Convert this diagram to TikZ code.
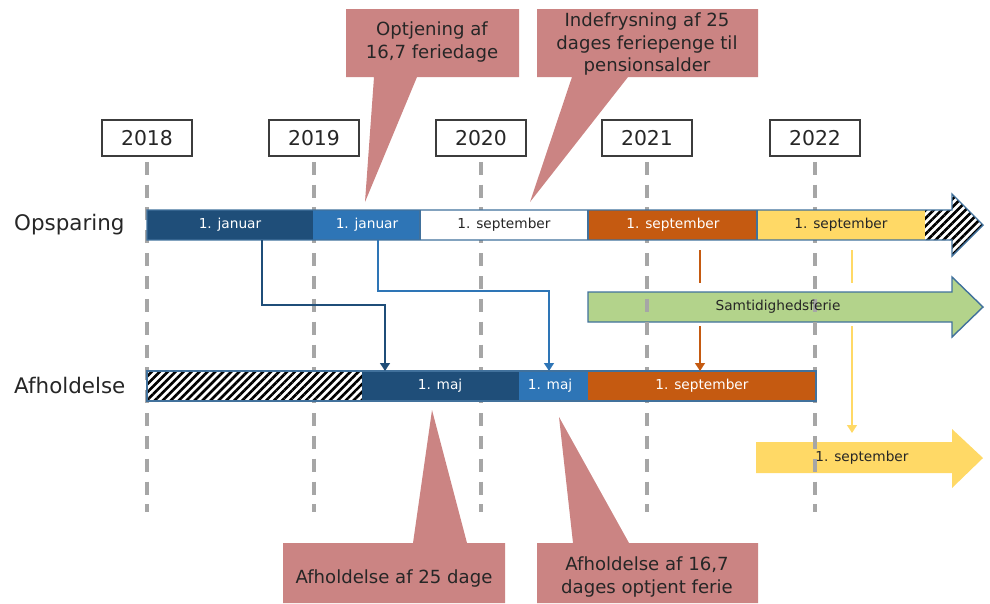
\documentclass[tikz,border=0pt]{standalone}
\usepackage{fontspec}
\setmainfont{DejaVu Sans}
\usepackage{tikz}
\usetikzlibrary{positioning, arrows.meta, patterns.meta, calc}
\definecolor{darkblue}{HTML}{1F4E79}
\definecolor{midblue}{HTML}{2E75B6}
\definecolor{rust}{HTML}{C55A11}
\definecolor{sun}{HTML}{FFD966}
\definecolor{leaf}{HTML}{B3D38B}
\definecolor{rose}{HTML}{CB8483}
\definecolor{rim}{HTML}{41719C}
\definecolor{gridgray}{HTML}{A6A6A6}
\definecolor{ink}{HTML}{262626}

\begin{document}
\begin{tikzpicture}[
        x=0.02cm, y=-0.02cm,
        yearbox/.style={rectangle, draw=ink!90, line width=0.6pt, minimum width=1.8cm, minimum height=0.72cm, inner sep=0pt, font=\fontsize{11.6}{13}\selectfont, text=ink},
        gridline/.style={gridgray, line width=2.1pt, dash pattern=on 7.4pt off 5.6pt},
        barlabel/.style={font=\fontsize{7.8}{9}\selectfont, inner sep=1pt},
        rowlabel/.style={anchor=west, font=\fontsize{12.2}{14}\selectfont, text=ink},
        calltext/.style={font=\fontsize{10.3}{12.8}\selectfont, align=center, text=ink},
        hatch/.style={pattern={Lines[angle=45, distance=3.2pt, line width=1.5pt]}},
        link/.style={line width=1.3pt, -{Triangle[width=5.5pt, length=4.5pt]}}
    ]
    \useasboundingbox (0,0) rectangle (990,603);

    % Green and yellow arrows (grid lines run over them)
    \fill[leaf] (588,292) -- (952,292) -- (952,277) -- (983,307) -- (952,337) -- (952,322) -- (588,322) -- cycle;
    \draw[rim, line width=0.8pt] (588,292) -- (952,292) -- (952,277) -- (983,307) -- (952,337) -- (952,322) -- (588,322) -- cycle;
    \fill[sun] (756,442) -- (952,442) -- (952,429) -- (983,458) -- (952,488) -- (952,473) -- (756,473) -- cycle;

    % Years and grid lines
    \foreach \x/\yr in {147/2018, 314/2019, 481/2020, 647/2021, 815/2022} {
        \node[yearbox] (y\yr) at (\x,138) {\yr};
        \coordinate (g\yr) at (\x,512);
        \draw[gridline] ([yshift=-3pt]y\yr.south) -- (g\yr);
    }

    \node[barlabel, text=ink] (samtid) at (778,307) {Samtidighedsferie};
    \node[barlabel, text=ink] (afh4) at (862,458) {1. september};

    % Opsparing
    \node[rowlabel] (opsp) at (8,225) {Opsparing};
    \fill[darkblue] (147,210) rectangle (313,240);
    \fill[midblue] (313,210) rectangle (420,240);
    \fill[white] (420,210) rectangle (588,240);
    \fill[rust] (588,210) rectangle (757,240);
    \fill[sun] (757,210) rectangle (925,240);
    \fill[white] (925,210) -- (952,210) -- (952,194) -- (983,225) -- (952,256) -- (952,240) -- (925,240) -- cycle;
    \fill[hatch] (925,210) -- (952,210) -- (952,194) -- (983,225) -- (952,256) -- (952,240) -- (925,240) -- cycle;
    \draw[rim, line width=0.8pt] (147,210) -- (952,210) -- (952,194) -- (983,225) -- (952,256) -- (952,240) -- (147,240) -- cycle;
    \draw[rim, line width=0.8pt] (420,210) -- (420,240) (588,210) -- (588,240) (757,210) -- (757,240);
    \node[barlabel, text=white] (ops1) at (230,225) {1. januar};
    \node[barlabel, text=white] (ops2) at (367,225) {1. januar};
    \node[barlabel, text=ink] (ops3) at (504,225) {1. september};
    \node[barlabel, text=white] (ops4) at (673,225) {1. september};
    \node[barlabel, text=ink] (ops5) at (841,225) {1. september};

    % Afholdelse
    \node[rowlabel] (afho) at (8,385) {Afholdelse};
    \fill[white] (147,371) rectangle (362,401);
    \fill[hatch] (147,371) rectangle (362,401);
    \fill[darkblue] (362,371) rectangle (519,401);
    \fill[midblue] (519,371) rectangle (588,401);
    \fill[rust] (588,371) rectangle (816,401);
    \draw[rim, line width=0.8pt] (147,371) rectangle (816,401);
    \node[barlabel, text=white] (afh1) at (440,386) {1. maj};
    \node[barlabel, text=white] (afh2) at (550,386) {1. maj};
    \node[barlabel, text=white] (afh3) at (702,386) {1. september};

    % Connectors
    \coordinate (s1) at (262,240);
    \coordinate (t1) at (385,371);
    \coordinate (s2) at (378,240);
    \coordinate (t2) at (549,371);
    \draw[link, darkblue] (s1) -- ++(0,65) -| (t1);
    \draw[link, midblue] (s2) -- ++(0,51) -| (t2);
    \coordinate (s3) at (700,250);
    \coordinate (m3) at (700,283);
    \coordinate (n3) at (700,326);
    \coordinate (t3) at (700,371);
    \draw[rust, line width=1.3pt] (s3) -- (m3);
    \draw[link, rust] (n3) -- (t3);
    \coordinate (s4) at (852,250);
    \coordinate (m4) at (852,283);
    \coordinate (n4) at (852,326);
    \coordinate (t4) at (852,433);
    \draw[sun, line width=1.3pt] (s4) -- (m4);
    \draw[link, sun] (n4) -- (t4);

    % Callouts
    \fill[rose] (346,9) -- (519,9) -- (519,77) -- (417,77) -- (365,202) -- (374,77) -- (346,77) -- cycle;
    \fill[rose] (537,9) -- (758,9) -- (758,77) -- (628,77) -- (530,202) -- (572,77) -- (537,77) -- cycle;
    \fill[rose] (283,543) -- (413,543) -- (432,410) -- (467,543) -- (505,543) -- (505,603) -- (283,603) -- cycle;
    \fill[rose] (537,543) -- (573,543) -- (559,417) -- (629,543) -- (758,543) -- (758,603) -- (537,603) -- cycle;
    \node[calltext] (optj) at (432,42) {Optjening af\\16,7 feriedage};
    \node[calltext] (indef) at (647,44) {Indefrysning af 25\\dages feriepenge til\\pensionsalder};
    \node[calltext] (afh25) at (394,578) {Afholdelse af 25 dage};
    \node[calltext] (afh167) at (647,577) {Afholdelse af 16,7\\dages optjent ferie};
\end{tikzpicture}
\end{document}
